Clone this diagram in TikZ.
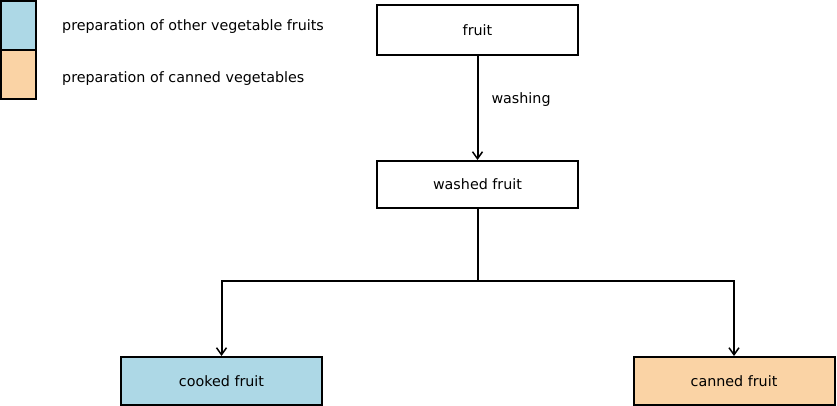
\documentclass[tikz,border=0pt]{standalone}
\usepackage{fontspec}
\setmainfont{DejaVu Sans}
\usetikzlibrary{arrows.meta}
\definecolor{legblue}{HTML}{ADD8E6}
\definecolor{legorange}{HTML}{FAD3A5}
\begin{document}
\begin{tikzpicture}[x=1pt,y=-1pt,
  txt/.style={font=\fontsize{14.3}{16}\selectfont},
  box/.style={draw=black,line width=2pt,minimum width=201pt,minimum height=48pt,inner sep=0pt,txt},
  conn/.style={line width=2pt,-{Straight Barb[length=7pt,width=10pt,line width=1.5pt]}},
  legtext/.style={anchor=west,inner sep=0pt,txt}]
\useasboundingbox (0,0) rectangle (837,406);
\node[box,minimum height=49pt,fill=legblue,minimum width=35pt] (lb) at (18.5,25.5) {};
\node[box,minimum height=49pt,fill=legorange,minimum width=35pt] (lo) at (18.5,74.5) {};
\node[legtext] (lt1) at (62,27) {preparation of other vegetable fruits};
\node[legtext] (lt2) at (62,79) {preparation of canned vegetables};
\node[box,minimum height=50pt] (fruit) at (477.5,30) {fruit};
\node[box,minimum height=47pt] (washed) at (477.5,184.5) {washed fruit};
\node[box,fill=legblue] (cooked) at (221.5,381) {cooked fruit};
\node[box,fill=legorange] (canned) at (734,381) {canned fruit};
\coordinate (j) at (477.5,281);
\draw[conn] (fruit.south) -- node[pos=0.415,anchor=west,xshift=13pt,inner sep=0pt,txt] (wl) {washing} (washed.north);
\draw[line width=2pt] (washed.south) -- (j);
\draw[conn] (j) -| (cooked.north);
\draw[conn] (j) -| (canned.north);
\end{tikzpicture}
\end{document}
